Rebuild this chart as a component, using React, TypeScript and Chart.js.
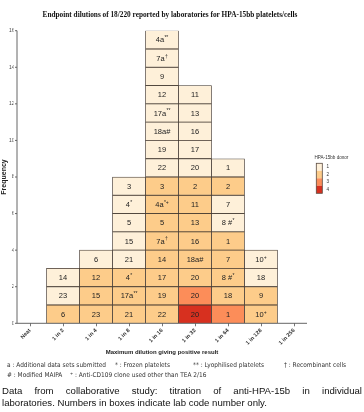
import { useEffect, useRef } from "react";
import { Chart, registerables } from "chart.js";

Chart.register(...registerables);

const TITLE = "Endpoint dilutions of 18/220 reported by laboratories for HPA-15bb platelets/cells";
const X_TITLE = "Maximum dilution giving positive result";
const Y_TITLE = "Frequency";
const LEGEND_TITLE = "HPA-15bb donor";

const categories = ["Neat", "1 in 2", "1 in 4", "1 in 8", "1 in 16", "1 in 32", "1 in 64", "1 in 128", "1 in 256"];

// Lab codes per dilution, bottom cell first. Text after "^" is a superscript.
const neatLabs: string[] = [];
const in2Labs = ["6", "23", "14"];
const in4Labs = ["23", "15", "12", "6"];
const in8Labs = ["21", "17a^**", "4^*", "21", "15", "5", "4^*", "3"];
const in16Labs = ["22", "19", "17", "14", "7a^†", "5", "4a^*+", "3", "22", "19", "18a#", "17a^**", "12", "9", "7a^†", "4a^**"];
const in32Labs = ["20", "20", "20", "18a#", "16", "13", "11", "2", "20", "17", "16", "13", "11"];
const in64Labs = ["1", "18", "8 #^*", "7", "1", "8 #^*", "7", "2", "1"];
const in128Labs = ["10^+", "9", "18", "10^+"];
const in256Labs: string[] = [];

// HPA-15bb donor number per cell, same order
const neatDonor: number[] = [];
const in2Donor = [2, 1, 1];
const in4Donor = [2, 2, 2, 1];
const in8Donor = [2, 2, 2, 1, 1, 1, 1, 1];
const in16Donor = [2, 2, 2, 2, 2, 2, 2, 2, 1, 1, 1, 1, 1, 1, 1, 1];
const in32Donor = [4, 3, 2, 2, 2, 2, 2, 2, 1, 1, 1, 1, 1];
const in64Donor = [3, 2, 2, 2, 2, 1, 1, 2, 1];
const in128Donor = [2, 2, 1, 1];
const in256Donor: number[] = [];

const donorLevels = ["1", "2", "3", "4"];
const donorColors = ["#fef0d9", "#fdcc8a", "#fc8d59", "#d7301f"];

const yTicksMax = 16;
const yTickStep = 2;

const labsByCol = [neatLabs, in2Labs, in4Labs, in8Labs, in16Labs, in32Labs, in64Labs, in128Labs, in256Labs];
const donorByCol = [neatDonor, in2Donor, in4Donor, in8Donor, in16Donor, in32Donor, in64Donor, in128Donor, in256Donor];

const CELL_BORDER = "#3f352d";

function drawCellText(ctx: CanvasRenderingContext2D, text: string, cx: number, cy: number) {
  const [main, sup] = text.split("^");
  const mainFont = "7.5px 'Liberation Sans', Arial, sans-serif";
  const supFont = "5px 'Liberation Sans', Arial, sans-serif";
  ctx.font = mainFont;
  const mw = ctx.measureText(main).width;
  let sw = 0;
  if (sup) {
    ctx.font = supFont;
    sw = ctx.measureText(sup).width + 0.3;
  }
  const x0 = cx - (mw + sw) / 2;
  ctx.textAlign = "left";
  ctx.textBaseline = "middle";
  ctx.fillStyle = "#222";
  ctx.font = mainFont;
  ctx.fillText(main, x0, cy + 0.5);
  if (sup) {
    ctx.font = supFont;
    ctx.fillText(sup, x0 + mw + 0.3, cy - 2);
  }
}

const cellLabelPlugin = {
  id: "cellLabels",
  afterDatasetsDraw(chart: any) {
    const ctx = chart.ctx as CanvasRenderingContext2D;
    ctx.save();
    chart.data.datasets.forEach((_ds: any, di: number) => {
      const meta = chart.getDatasetMeta(di);
      meta.data.forEach((el: any, ci: number) => {
        const lab = labsByCol[ci][di];
        if (!lab) return;
        const p = el.getProps(["x", "y", "base"], true);
        drawCellText(ctx, lab, p.x, (p.y + p.base) / 2);
      });
    });
    ctx.restore();
  },
};

const axesPlugin = {
  id: "customAxes",
  afterDraw(chart: any) {
    const ctx = chart.ctx as CanvasRenderingContext2D;
    const { top, bottom } = chart.chartArea;
    const yScale = chart.scales.y;
    const ax = 17;
    ctx.save();
    ctx.strokeStyle = "#666";
    ctx.lineWidth = 1;
    ctx.beginPath();
    ctx.moveTo(ax, top);
    ctx.lineTo(ax, bottom);
    ctx.moveTo(ax, bottom);
    ctx.lineTo(307, bottom);
    for (let v = 0; v <= yTicksMax; v += yTickStep) {
      const py = yScale.getPixelForValue(v);
      ctx.moveTo(ax - 2, py);
      ctx.lineTo(ax, py);
    }
    ctx.stroke();

    // title
    ctx.fillStyle = "#111";
    ctx.font = "bold 7.3px 'Liberation Serif', 'Times New Roman', serif";
    ctx.textAlign = "center";
    ctx.textBaseline = "middle";
    ctx.fillText(TITLE, 170, 15);

    // legend
    ctx.fillStyle = "#333";
    ctx.font = "4.6px 'Liberation Sans', Arial, sans-serif";
    ctx.textAlign = "left";
    ctx.fillText(LEGEND_TITLE, 314.5, 157.3);
    const bx = 316.3, by = 163.3, bw = 6, bh = 7.5;
    donorLevels.forEach((lvl, i) => {
      ctx.fillStyle = donorColors[i];
      ctx.fillRect(bx, by + i * bh, bw, bh);
      ctx.fillStyle = "#333";
      ctx.fillText(lvl, 326.5, by + i * bh + bh / 2);
    });
    ctx.strokeStyle = "#5a4a40";
    ctx.lineWidth = 0.8;
    ctx.strokeRect(bx, by, bw, bh * donorLevels.length);
    ctx.restore();
  },
};

function ChartBox() {
  const ref = useRef<HTMLCanvasElement | null>(null);
  useEffect(() => {
    if (!ref.current) return;
    const datasets = [];
    for (let r = 0; r < yTicksMax; r++) {
      datasets.push({
        label: "row " + (r + 1),
        data: labsByCol.map((col) => (col.length > r ? 1 : null)),
        backgroundColor: donorByCol.map((col) => (col[r] ? donorColors[col[r] - 1] : "transparent")),
        borderColor: CELL_BORDER,
        borderWidth: 0.75,
        borderSkipped: false,
        barPercentage: 1,
        categoryPercentage: 1,
      });
    }
    const chart = new Chart(ref.current, {
      type: "bar",
      data: { labels: categories, datasets },
      options: {
        responsive: false,
        animation: false,
        devicePixelRatio: 1,
        layout: { padding: { left: 0, right: 53.5, top: 30.7, bottom: 0 } },
        plugins: {
          legend: { display: false },
          tooltip: { enabled: false },
          title: { display: false },
        },
        scales: {
          x: {
            type: "category",
            stacked: true,
            offset: true,
            grid: { display: true, drawOnChartArea: false, drawTicks: true, tickLength: 3, offset: false, color: "#777" },
            border: { display: false },
            ticks: {
              autoSkip: false,
              minRotation: 45,
              maxRotation: 45,
              padding: 1,
              color: "#333",
              font: { family: "'Liberation Sans', Arial, sans-serif", size: 5.5, weight: "bold" },
            },
            title: {
              display: true,
              text: X_TITLE,
              color: "#222",
              font: { family: "'Liberation Sans', Arial, sans-serif", size: 6, weight: "bold" },
              padding: { top: 0, bottom: 6.4 },
            },
            afterFit: (s: any) => {
              s.height = 38.7;
            },
          },
          y: {
            stacked: true,
            min: 0,
            max: yTicksMax,
            ticks: {
              stepSize: yTickStep,
              padding: -1,
              color: "#444",
              font: { family: "'Liberation Sans', Arial, sans-serif", size: 5 },
            },
            grid: { display: false, drawTicks: false },
            border: { display: false },
            title: {
              display: true,
              text: Y_TITLE,
              color: "#222",
              font: { family: "'Liberation Sans', Arial, sans-serif", size: 7, weight: "bold" },
              padding: 0,
            },
            afterFit: (s: any) => {
              s.width = 13.5;
            },
          },
        },
      },
      plugins: [cellLabelPlugin, axesPlugin],
    } as any);
    return () => chart.destroy();
  }, []);
  return <canvas ref={ref} width={364} height={362} style={{ display: "block" }} />;
}

const noteFont = "'Liberation Sans Narrow', 'DejaVu Sans Condensed', Arial, sans-serif";
const footnotes = [
  { text: "a : Additional data sets submitted", x: 7, y: 365 },
  { text: "* : Frozen platelets", x: 115, y: 365 },
  { text: "** : Lyophilised platelets", x: 193, y: 365 },
  { text: "† : Recombinant cells", x: 284, y: 365 },
  { text: "# : Modified MAIPA", x: 7, y: 375 },
  { text: "⁺ : Anti-CD109 clone used other than TEA 2/16", x: 70, y: 375 },
];
const captionLine1 = "Data from collaborative study: titration of anti-HPA-15b in individual";
const captionLine2 = "laboratories. Numbers in boxes indicate lab code number only.";

export default function App() {
  return (
    <div style={{ position: "absolute", left: 0, top: 0, width: 364, height: 412, background: "#fff", overflow: "hidden" }}>
      <ChartBox />
      {footnotes.map((f, i) => (
        <span
          key={i}
          style={{
            position: "absolute",
            left: f.x,
            top: f.y - 4,
            fontFamily: noteFont,
            fontSize: "6.5px",
            lineHeight: "8px",
            color: "#333",
            whiteSpace: "nowrap",
          }}
        >
          {f.text}
        </span>
      ))}
      <div
        style={{
          position: "absolute",
          left: 2,
          top: 385,
          width: 360,
          fontFamily: "'Liberation Sans', Arial, sans-serif",
          fontSize: "9.6px",
          lineHeight: "12px",
          color: "#111",
        }}
      >
        <div style={{ textAlign: "justify", textAlignLast: "justify", whiteSpace: "nowrap" as any }}>{captionLine1}</div>
        <div>{captionLine2}</div>
      </div>
    </div>
  );
}
